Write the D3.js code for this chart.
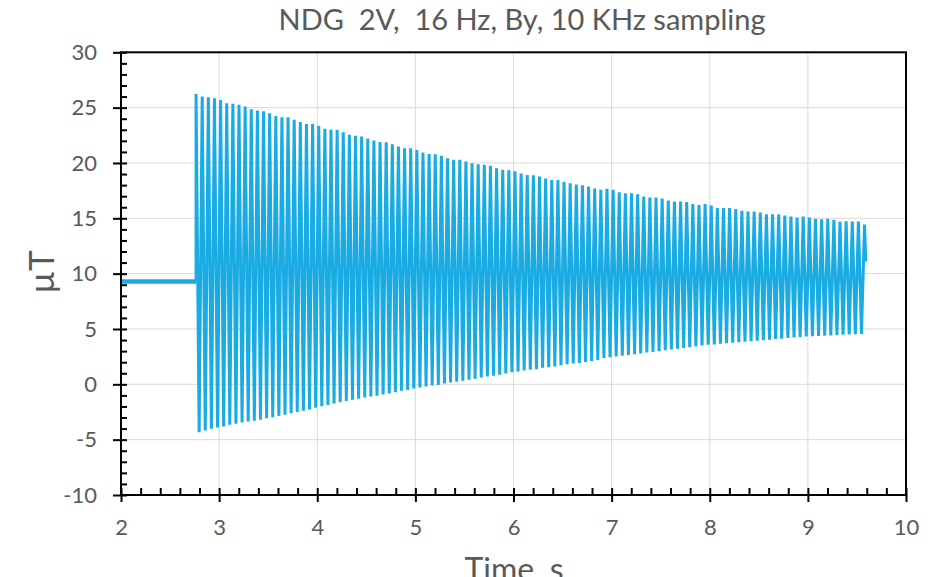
<!DOCTYPE html>
<html>
<head>
<meta charset="utf-8">
<script src="https://cdn.jsdelivr.net/npm/d3@7"></script>
<style>
  body { margin: 0; background: #fff; }
  text { font-family: Lato, "Open Sans", sans-serif; fill: #595959; white-space: pre; }
  .axis path { display: none; }
  .axis line { stroke: #000; stroke-width: 2; }
  .grid line { stroke: #d9d9d9; stroke-width: 1; }
</style>
</head>
<body>
<div id="chart"></div>
<script>
// DATA
// ------------------------------------------------------------------

// flat signal before the drive is switched on
var preTime = [2.0, 2.765],
    preValue = [9.3, 9.3];

// drive frequency (Hz) and time of the first positive peak (s)
var driveHz = 16,
    firstPeakTime = 2.765;

// positive peaks, one per cycle (uT)
var peakValues = [
  26.24, 26.0, 25.94, 25.85, 25.7, 25.4, 25.34, 25.25, 25.1, 24.86,
  24.73, 24.68, 24.5, 24.25, 24.14, 24.14, 23.9, 23.71, 23.53, 23.53,
  23.35, 23.08, 22.99, 22.99, 22.78, 22.54, 22.45, 22.39, 22.2, 22.03,
  21.9, 21.88, 21.7, 21.48, 21.33, 21.33, 21.18, 20.94, 20.82, 20.79,
  20.64, 20.43, 20.28, 20.28, 20.13, 19.98, 19.89, 19.83, 19.74, 19.53,
  19.38, 19.35, 19.26, 19.04, 18.92, 18.9, 18.77, 18.59, 18.47, 18.45,
  18.29, 18.17, 18.05, 17.99, 17.87, 17.69, 17.57, 17.66, 17.57, 17.36,
  17.27, 17.27, 17.18, 16.97, 16.88, 16.88, 16.78, 16.6, 16.51, 16.51,
  16.46, 16.28, 16.21, 16.28, 16.15, 15.94, 15.92, 15.92, 15.83, 15.67,
  15.61, 15.61, 15.52, 15.37, 15.37, 15.37, 15.25, 15.16, 15.07, 15.16,
  15.07, 14.95, 14.92, 14.95, 14.86, 14.71, 14.74, 14.71, 14.71, 14.44
];

// negative peaks, half a cycle after each positive peak (uT)
var troughValues = [
  -4.32, -4.17, -4.02, -3.9, -3.81, -3.66, -3.57, -3.45, -3.36, -3.3,
  -3.21, -3.06, -2.97, -2.85, -2.75, -2.62, -2.5, -2.39, -2.27, -2.12,
  -1.99, -1.86, -1.74, -1.62, -1.51, -1.4, -1.31, -1.19, -1.1, -1.04,
  -0.92, -0.83, -0.71, -0.59, -0.5, -0.38, -0.29, -0.2, -0.11, -0.05,
  0.07, 0.16, 0.23, 0.32, 0.41, 0.5, 0.62, 0.71, 0.77, 0.86,
  0.98, 1.1, 1.16, 1.25, 1.31, 1.37, 1.49, 1.55, 1.61, 1.73,
  1.82, 1.88, 1.94, 2.03, 2.12, 2.21, 2.37, 2.45, 2.51, 2.58,
  2.66, 2.72, 2.79, 2.87, 2.93, 3.0, 3.08, 3.14, 3.21, 3.29,
  3.35, 3.42, 3.5, 3.57, 3.61, 3.67, 3.71, 3.76, 3.81, 3.85,
  3.9, 3.95, 3.99, 4.04, 4.09, 4.13, 4.18, 4.23, 4.27, 4.32,
  4.35, 4.37, 4.4, 4.42, 4.45, 4.48, 4.5, 4.53, 4.56
];

// last recorded sample
var tailTime = 9.59,
    tailValue = 11.1;

// axes
var xDomain = [2, 10],
    yDomain = [-10, 30],
    xMajor = [2, 3, 4, 5, 6, 7, 8, 9, 10],
    yMajor = [-10, -5, 0, 5, 10, 15, 20, 25, 30];

var titleText = "NDG  2V,  16 Hz, By, 10 KHz sampling",
    xTitle = "Time, s",
    yTitle = "\u00b5T";

// CANVAS
// ------------------------------------------------------------------

var width = 938,
    height = 577;

var svg = d3.select("#chart")
    .append("svg")
    .attr("width", width)
    .attr("height", height);

var plotLeft = 121, plotRight = 906, plotTop = 52.3, plotBottom = 495;

var xScale = d3.scaleLinear().domain(xDomain).range([plotLeft, plotRight]),
    yScale = d3.scaleLinear().domain(yDomain).range([plotBottom, plotTop]);

// minor ticks every 0.2 s and every 1 uT
var xMinor = d3.range(xDomain[0] * 5, xDomain[1] * 5 + 1).map(function(d) { return d / 5; }),
    yMinor = d3.range(yDomain[0], yDomain[1] + 1);

// plain hyphen for negatives, as in the original
var plainFormat = function(d) { return String(d); };

// GRID
// ------------------------------------------------------------------

svg.append("g")
    .attr("class", "grid")
    .selectAll("line")
    .data(xMajor)
    .join("line")
    .attr("x1", function(d) { return xScale(d); })
    .attr("x2", function(d) { return xScale(d); })
    .attr("y1", plotTop)
    .attr("y2", plotBottom);

svg.append("g")
    .attr("class", "grid")
    .selectAll("line")
    .data(yMajor)
    .join("line")
    .attr("x1", plotLeft)
    .attr("x2", plotRight)
    .attr("y1", function(d) { return yScale(d); })
    .attr("y2", function(d) { return yScale(d); });

// SERIES
// ------------------------------------------------------------------

var period = 1 / driveHz;
var signal = [];
peakValues.forEach(function(v, k) {
  var t = firstPeakTime + k * period;
  signal.push([t, v]);
  if (k < troughValues.length) signal.push([t + period / 2, troughValues[k]]);
});
signal.push([tailTime, tailValue]);

var line = d3.line()
    .x(function(d) { return xScale(d[0]); })
    .y(function(d) { return yScale(d[1]); });

svg.append("path")
    .attr("d", line(preTime.map(function(t, i) { return [t, preValue[i]]; })))
    .attr("fill", "none")
    .attr("stroke", "#1aabe3")
    .attr("stroke-width", 4.5);

svg.append("path")
    .attr("d", line([[preTime[1], preValue[1]]].concat(signal)))
    .attr("fill", "none")
    .attr("stroke", "#1aabe3")
    .attr("stroke-width", 3)
    .attr("stroke-linejoin", "miter")
    .attr("stroke-miterlimit", 1.5);

// AXES
// ------------------------------------------------------------------

var tickFont = "22px";

// left: labels + outer half of major ticks
svg.append("g")
    .attr("class", "axis")
    .attr("transform", "translate(" + plotLeft + ",0)")
    .call(d3.axisLeft(yScale).tickValues(yMajor).tickSize(8).tickPadding(16).tickFormat(plainFormat))
    .selectAll("text").style("font-size", tickFont).style("fill", "#595959");
// left: inner ticks
svg.append("g")
    .attr("class", "axis")
    .attr("transform", "translate(" + plotLeft + ",0)")
    .call(d3.axisLeft(yScale).tickValues(yMinor).tickSize(-6).tickFormat(""));

// bottom: labels + outer half of major ticks
svg.append("g")
    .attr("class", "axis")
    .attr("transform", "translate(0," + plotBottom + ")")
    .call(d3.axisBottom(xScale).tickValues(xMajor).tickSize(7).tickPadding(17).tickFormat(plainFormat))
    .selectAll("text").style("font-size", tickFont).style("fill", "#595959");
// bottom: inner ticks
svg.append("g")
    .attr("class", "axis")
    .attr("transform", "translate(0," + plotBottom + ")")
    .call(d3.axisBottom(xScale).tickValues(xMinor).tickSize(-7).tickFormat(""));

// frame
svg.append("rect")
    .attr("x", plotLeft)
    .attr("y", plotTop)
    .attr("width", plotRight - plotLeft)
    .attr("height", plotBottom - plotTop)
    .attr("fill", "none")
    .attr("stroke", "#000")
    .attr("stroke-width", 2);

// TITLES
// ------------------------------------------------------------------

svg.append("text")
    .attr("x", 522)
    .attr("y", 30)
    .style("text-anchor", "middle")
    .style("font-size", "29px")
    .text(titleText);

svg.append("text")
    .attr("transform", "translate(54,272) rotate(-90)")
    .style("text-anchor", "middle")
    .style("font-size", "35px")
    .text(yTitle);

svg.append("text")
    .attr("x", 514)
    .attr("y", 581)
    .style("text-anchor", "middle")
    .style("font-size", "32px")
    .text(xTitle);
</script>
</body>
</html>
